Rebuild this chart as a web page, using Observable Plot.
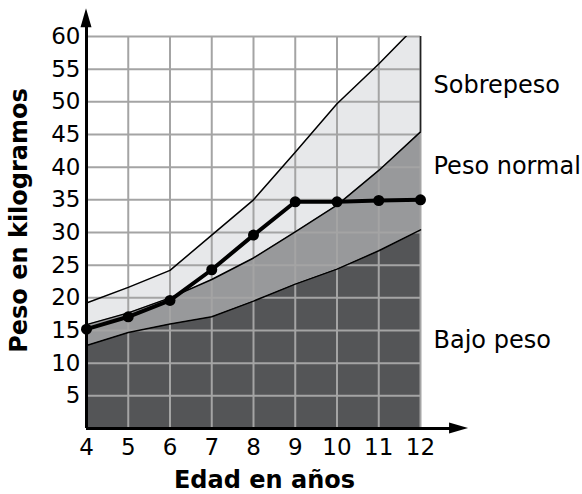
<!DOCTYPE html>
<html>
<head>
<meta charset="utf-8">
<script src="https://cdn.jsdelivr.net/npm/d3@7"></script>
<script src="https://cdn.jsdelivr.net/npm/@observablehq/plot@0.6"></script>
<style>
  html, body { margin: 0; padding: 0; background: #fff; }
  #chart { width: 582px; height: 494px; }
</style>
</head>
<body>
<div id="chart"></div>
<script>
// ---- Data ----
const ages = [4, 5, 6, 7, 8, 9, 10, 11, 12];
const bajoPesoTop = [12.7, 14.7, 16.0, 17.1, 19.5, 22.1, 24.4, 27.2, 30.4];
const pesoNormalTop = [15.9, 17.7, 20.0, 22.8, 26.1, 30.1, 34.2, 39.5, 45.4];
const sobrepesoTop = [19.2, 21.6, 24.2, 29.6, 35.0, 42.3, 49.7, 55.8, 62.3];
const pesoNino = [15.2, 17.1, 19.6, 24.3, 29.6, 34.7, 34.7, 34.9, 35.0];

const xTicks = [4, 5, 6, 7, 8, 9, 10, 11, 12];
const yTicks = [5, 10, 15, 20, 25, 30, 35, 40, 45, 50, 55, 60];

const zoneLabels = ["Sobrepeso", "Peso normal", "Bajo peso"];
const zoneLabelY = [52.5, 40.1, 13.5];

const xTitle = "Edad en años";
const yTitle = "Peso en kilogramos";

// ---- Build table ----
const rows = ages.map((a, i) => ({
  age: a,
  bajo: bajoPesoTop[i],
  normal: pesoNormalTop[i],
  sobre: sobrepesoTop[i],
  nino: pesoNino[i]
}));
const labelRows = zoneLabels.map((t, i) => ({ text: t, y: zoneLabelY[i] }));

const FONT = "DejaVu Sans, Verdana, sans-serif";

const plot = Plot.plot({
  width: 582,
  height: 494,
  marginLeft: 86,
  marginRight: 162,
  marginTop: 36,
  marginBottom: 66,
  style: { fontFamily: FONT, fontSize: "23px", color: "#000", background: "#fff", overflow: "visible" },
  x: { domain: [4, 12], ticks: xTicks, tickSize: 0, tickPadding: 10, label: null, tickFormat: d => String(d) },
  y: { domain: [0, 60], ticks: yTicks, tickSize: 0, tickPadding: 6, label: null, tickFormat: d => String(d) },
  marks: [
    // zones
    Plot.areaY(rows, { x: "age", y1: 0, y2: "bajo", fill: "#545557" }),
    Plot.areaY(rows, { x: "age", y1: "bajo", y2: "normal", fill: "#98999b" }),
    Plot.areaY(rows, { x: "age", y1: "normal", y2: "sobre", fill: "#e7e8ea", clip: true }),
    // grid
    Plot.ruleX(xTicks.filter(d => d > 4), { stroke: "#a4a4a4", strokeWidth: 2, y1: 0, y2: 60 }),
    Plot.ruleY(yTicks, { stroke: "#a4a4a4", strokeWidth: 2, x1: 4, x2: 12 }),
    // zone boundaries
    Plot.lineY(rows, { x: "age", y: "bajo", stroke: "#000", strokeWidth: 1.5 }),
    Plot.lineY(rows, { x: "age", y: "normal", stroke: "#000", strokeWidth: 1.5 }),
    Plot.lineY(rows, { x: "age", y: "sobre", stroke: "#000", strokeWidth: 1.5, clip: true }),
    Plot.ruleX([12], { y1: pesoNormalTop[pesoNormalTop.length - 1], y2: 60, stroke: "#222", strokeWidth: 1.5 }),
    // child's weight
    Plot.lineY(rows, { x: "age", y: "nino", stroke: "#000", strokeWidth: 4 }),
    Plot.dot(rows, { x: "age", y: "nino", r: 5.5, fill: "#000" }),
    // axes lines
    Plot.ruleY([0], { x1: 4, x2: 12.72, stroke: "#000", strokeWidth: 3 }),
    Plot.ruleX([4], { y1: 0, y2: 61.5, stroke: "#000", strokeWidth: 3 }),
    // zone labels
    Plot.text(labelRows, { x: () => 12, y: "y", text: "text", textAnchor: "start", dx: 13, fontSize: 24, fill: "#000" }),
    // axis titles
    Plot.text([xTitle], { frameAnchor: "bottom", textAnchor: "middle", lineAnchor: "middle", text: d => d, dx: 11, dy: 52, fontSize: 24, fontWeight: "bold", fill: "#000" }),
    Plot.text([yTitle], { frameAnchor: "left", textAnchor: "middle", lineAnchor: "middle", text: d => d, rotate: -90, dx: -67, dy: -12, fontSize: 24, fontWeight: "bold", fill: "#000" })
  ]
});

document.getElementById("chart").appendChild(plot);

// arrowheads on the axes
const xs = plot.scale("x"), ys = plot.scale("y");
const svg = d3.select(plot);
const x0 = xs.apply(4), y0 = ys.apply(0);
const yTop = ys.apply(61.5), xRight = xs.apply(12.72);
svg.append("path")
  .attr("d", `M${x0 - 5.5},${yTop + 1} L${x0},${yTop - 18} L${x0 + 5.5},${yTop + 1} Z`)
  .attr("fill", "#000");
svg.append("path")
  .attr("d", `M${xRight - 1},${y0 - 5.5} L${xRight + 18},${y0} L${xRight - 1},${y0 + 5.5} Z`)
  .attr("fill", "#000");
</script>
</body>
</html>
